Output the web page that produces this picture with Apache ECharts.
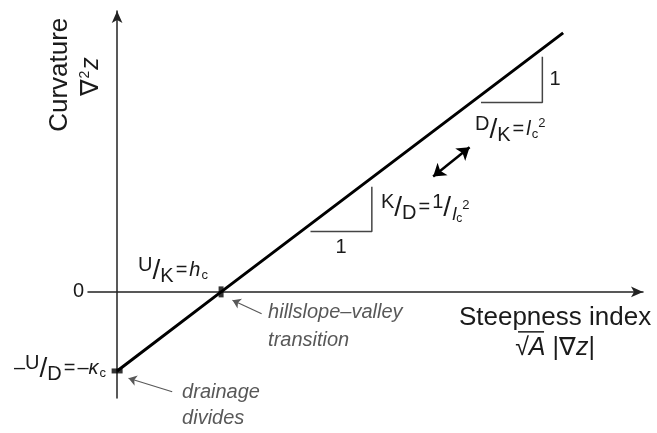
<!DOCTYPE html>
<html>
<head>
<meta charset="utf-8">
<script src="https://cdn.jsdelivr.net/npm/echarts@6/dist/echarts.min.js"></script>
<style>
  html, body { margin: 0; padding: 0; background: #fff; }
  #chart { width: 657px; height: 433px; }
</style>
</head>
<body>
<div id="chart"></div>
<script>
// steepness index (in units of h_c) vs curvature
const steepness = [0, 1, 4.29];
const curvature = [-0.76, 0, 2.49];
// marked points: drainage divides, hillslope-valley transition
const markSteep = [0, 1];
const markCurv = [-0.76, 0];
// slope triangles
const triLowX = [1.86, 2.45, 2.45];
const triLowY = [0.58, 0.58, 1.01];
const triHighX = [3.50, 4.09, 4.09];
const triHighY = [1.82, 1.82, 2.26];
// double arrow and the two pointers
const arrowX = [3.04, 3.39];
const arrowY = [1.11, 1.39];
const hillPtrX = [1.39, 1.11];
const hillPtrY = [-0.21, -0.08];
const dividePtrX = [0.53, 0.11];
const dividePtrY = [-0.96, -0.83];
const yTickLabels = ["0"];

const zip = (xs, ys) => xs.map((x, i) => [x, ys[i]]);
const FONT = "Liberation Sans";
const INK = "#1a1a1a";
const GREY = "#585858";

const chart = echarts.init(document.getElementById("chart"));

chart.setOption({
  animation: false,
  grid: { left: 88, right: 14, top: 11, bottom: 35 },
  xAxis: {
    type: "value",
    min: -0.28,
    max: 5.058,
    axisLine: {
      onZero: true,
      symbol: ["none", "arrow"],
      symbolSize: [8, 12],
      lineStyle: { color: "#222", width: 1.5 },
    },
    axisTick: { show: false },
    axisLabel: { show: false },
    splitLine: { show: false },
  },
  yAxis: {
    type: "value",
    min: -1.02,
    max: 2.70,
    axisLine: {
      onZero: true,
      symbol: ["none", "arrow"],
      symbolSize: [8, 12],
      lineStyle: { color: "#222", width: 1.5 },
    },
    axisTick: { show: false },
    splitLine: { show: false },
    axisLabel: {
      margin: 4,
      fontFamily: FONT,
      fontSize: 20,
      color: INK,
      formatter: (v) => (Math.abs(v) < 1e-9 ? yTickLabels[0] : ""),
    },
  },
  series: [
    {
      type: "line",
      data: zip(steepness, curvature),
      symbol: "none",
      lineStyle: { color: "#000", width: 3 },
      z: 3,
    },
    {
      type: "scatter",
      data: zip(markSteep, markCurv),
      symbol: "rect",
      symbolSize: (v, p) => (p.dataIndex === 0 ? [11, 5] : [5, 11]),
      itemStyle: { color: "#000" },
      z: 4,
    },
    {
      type: "line",
      data: zip(triLowX, triLowY),
      symbol: "none",
      lineStyle: { color: "#444", width: 1.5 },
    },
    {
      type: "line",
      data: zip(triHighX, triHighY),
      symbol: "none",
      lineStyle: { color: "#444", width: 1.5 },
    },
    {
      type: "lines",
      coordinateSystem: "cartesian2d",
      symbol: ["arrow", "arrow"],
      symbolSize: 12,
      lineStyle: { color: "#000", width: 2.5, opacity: 1 },
      data: [{ coords: zip(arrowX, arrowY) }],
    },
    {
      type: "lines",
      coordinateSystem: "cartesian2d",
      symbol: ["none", "arrow"],
      symbolSize: 8,
      lineStyle: { color: GREY, width: 1.2, opacity: 1 },
      data: [
        { coords: zip(hillPtrX, hillPtrY) },
        { coords: zip(dividePtrX, dividePtrY) },
      ],
    },
  ],
});

// rich text styles for the small formulas
const rich = {
  n: { fontSize: 20, fontFamily: FONT, fill: INK },
  it: { fontSize: 20, fontFamily: FONT, fontStyle: "italic", fill: INK },
  sup: { fontSize: 20, fontFamily: FONT, fill: INK, padding: [0, 0, 11, 0] },
  sub: { fontSize: 20, fontFamily: FONT, fill: INK, padding: [12, 0, 0, 0] },
  subIt: { fontSize: 19, fontFamily: FONT, fontStyle: "italic", fill: INK, padding: [13, 0, 0, 1] },
  sl: { fontSize: 28, fontFamily: FONT, fill: INK },
  eq: { fontSize: 20, fontFamily: FONT, fill: INK, padding: [0, 2, 0, 2] },
  lo: { fontSize: 13, fontFamily: FONT, fill: INK, padding: [10, 0, 0, 1] },
  hi: { fontSize: 13, fontFamily: FONT, fill: INK, padding: [0, 0, 12, 0] },
  subLo: { fontSize: 12, fontFamily: FONT, fill: INK, padding: [22, 0, 0, 0] },
  subHi: { fontSize: 13, fontFamily: FONT, fill: INK, padding: [0, 0, 4, 0] },
};

const px = (x, y) => chart.convertToPixel({ gridIndex: 0 }, [x, y]);

function label(x, y, text, style, extra) {
  const p = px(x, y);
  return Object.assign(
    {
      type: "text",
      x: p[0],
      y: p[1],
      silent: true,
      style: Object.assign(
        { text, fontFamily: FONT, fontSize: 20, fill: INK, align: "left", verticalAlign: "middle", rich },
        style
      ),
    },
    extra || {}
  );
}

const grey = { fill: GREY, fontStyle: "italic" };
const xTitle = px(4.212, -0.538);

chart.setOption({
  graphic: [
    label(-0.548, 2.087, "Curvature", { fontSize: 26, align: "center" }, { rotation: Math.PI / 2 }),
    label(-0.25, 2.067, "{nab|∇}{two|2}{z|z}", {
      align: "center",
      rich: {
        nab: { fontSize: 25, fontFamily: FONT, fill: INK },
        two: { fontSize: 14, fontFamily: FONT, fill: INK, padding: [0, 1, 12, 1] },
        z: { fontSize: 25, fontFamily: FONT, fontStyle: "italic", fill: INK },
      },
    }, { rotation: Math.PI / 2 }),
    label(0.202, 0.202, "{sup|U}{sl|/}{sub|K}{eq|=}{it|h}{lo|c}", {}),
    label(-0.106, -0.74, "{n|–}{sup|U}{sl|/}{sub|D}{eq|=}{n|–}{it|κ}{lo|c}", { align: "right" }),
    label(2.538, 0.808, "{sup|K}{sl|/}{sub|D}{eq|=}{sup|1}{sl|/}{subIt|l}{subLo|c}{subHi|2}", {}),
    label(3.442, 1.558, "{sup|D}{sl|/}{sub|K}{eq|=}{it|l}{lo|c}{hi|2}", {}),
    label(2.154, 0.423, "1", { align: "center" }),
    label(4.212, 2.038, "1", { align: "center" }),
    label(1.452, -0.202, "hillslope–valley", grey),
    label(1.452, -0.462, "transition", grey),
    label(0.625, -0.971, "drainage", grey),
    label(0.625, -1.221, "divides", grey),
    label(4.212, -0.25, "Steepness index", { fontSize: 26, align: "center" }),
    label(4.212, -0.538, "{r|√}{a|A}{n| |∇}{z|z}{n||}", {
      align: "center",
      rich: {
        r: { fontSize: 25, fontFamily: FONT, fill: INK },
        a: { fontSize: 25, fontFamily: FONT, fontStyle: "italic", fill: INK },
        n: { fontSize: 25, fontFamily: FONT, fill: INK },
        z: { fontSize: 25, fontFamily: FONT, fontStyle: "italic", fill: INK },
      },
    }),
    {
      type: "line",
      silent: true,
      shape: { x1: xTitle[0] - 37, y1: xTitle[1] - 16, x2: xTitle[0] - 11, y2: xTitle[1] - 16 },
      style: { stroke: INK, lineWidth: 1.5 },
    },
  ],
});
</script>
</body>
</html>
